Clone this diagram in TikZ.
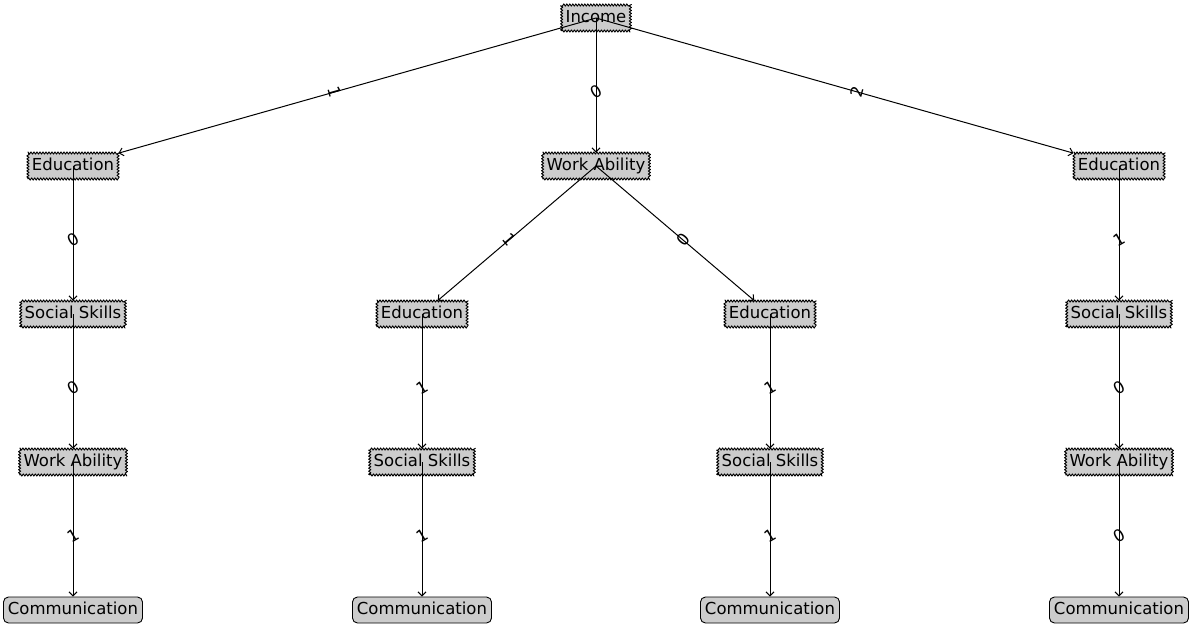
\documentclass[tikz,border=0pt]{standalone}
\usepackage{fontspec}
\setmainfont{DejaVu Sans}
\usetikzlibrary{decorations.pathmorphing,arrows.meta}
\definecolor{boxgray}{HTML}{CCCCCC}
\begin{document}
\begin{tikzpicture}[x=1pt,y=-1pt,
  base/.style={font=\fontsize{16.5}{19}\selectfont, text height=12pt, text depth=3.5pt,
    inner xsep=4pt, inner ysep=5.25pt, fill=boxgray, line width=0.9pt},
  saw/.style={base, draw, line join=round, decorate, decoration={zigzag, amplitude=1.1pt, segment length=3pt}},
  leaf/.style={base, draw, rounded corners=5pt, inner xsep=4.5pt},
  edge/.style={draw, line width=1pt, -{Straight Barb[length=4pt,width=8pt]}},
  lbl/.style={font=\fontsize{16.5}{19}\selectfont, inner sep=0pt},
  vlbl/.style={lbl, rotate=30}]
\useasboundingbox (0,0) rectangle (1194,627);
% nodes
\node[saw] (inc) at (596,18) {Income};
\node[saw] (e1) at (73,166) {Education};
\node[saw] (w1) at (596,166) {Work Ability};
\node[saw] (e2) at (1119,166) {Education};
\node[saw] (s1) at (73,314) {Social Skills};
\node[saw] (ea) at (422,314) {Education};
\node[saw] (eb) at (770,314) {Education};
\node[saw] (s2) at (1119,314) {Social Skills};
\node[saw] (w2) at (73,462) {Work Ability};
\node[saw] (sa) at (422,462) {Social Skills};
\node[saw] (sb) at (770,462) {Social Skills};
\node[saw] (w3) at (1119,462) {Work Ability};
\node[leaf] (c1) at (73,610) {Communication};
\node[leaf] (c2) at (422,610) {Communication};
\node[leaf] (c3) at (770,610) {Communication};
\node[leaf] (c4) at (1119,610) {Communication};
% edges
\draw[edge] (inc.center) -- (e1);
\draw[edge] (inc.center) -- (w1);
\draw[edge] (inc.center) -- (e2);
\draw[edge] (e1.center) -- (s1);
\draw[edge] (s1.center) -- (w2);
\draw[edge] (w2.center) -- (c1);
\draw[edge] (w1.center) -- (ea);
\draw[edge] (w1.center) -- (eb);
\draw[edge] (ea.center) -- (sa);
\draw[edge] (sa.center) -- (c2);
\draw[edge] (eb.center) -- (sb);
\draw[edge] (sb.center) -- (c3);
\draw[edge] (e2.center) -- (s2);
\draw[edge] (s2.center) -- (w3);
\draw[edge] (w3.center) -- (c4);
% edge labels
\path (inc.center) -- node[lbl, rotate=-74.2] {1} (e1.center);
\path (inc.center) -- node[vlbl] {0} (w1.center);
\path (inc.center) -- node[lbl, rotate=74.2] {2} (e2.center);
\path (e1.center) -- node[vlbl] {0} (s1.center);
\path (s1.center) -- node[vlbl] {0} (w2.center);
\path (w2.center) -- node[vlbl] {1} (c1.center);
\path (w1.center) -- node[lbl, rotate=-49.6] {1} (ea.center);
\path (w1.center) -- node[lbl, rotate=49.6] {0} (eb.center);
\path (ea.center) -- node[vlbl] {1} (sa.center);
\path (sa.center) -- node[vlbl] {1} (c2.center);
\path (eb.center) -- node[vlbl] {1} (sb.center);
\path (sb.center) -- node[vlbl] {1} (c3.center);
\path (e2.center) -- node[vlbl] {1} (s2.center);
\path (s2.center) -- node[vlbl] {0} (w3.center);
\path (w3.center) -- node[vlbl] {0} (c4.center);
\end{tikzpicture}
\end{document}
